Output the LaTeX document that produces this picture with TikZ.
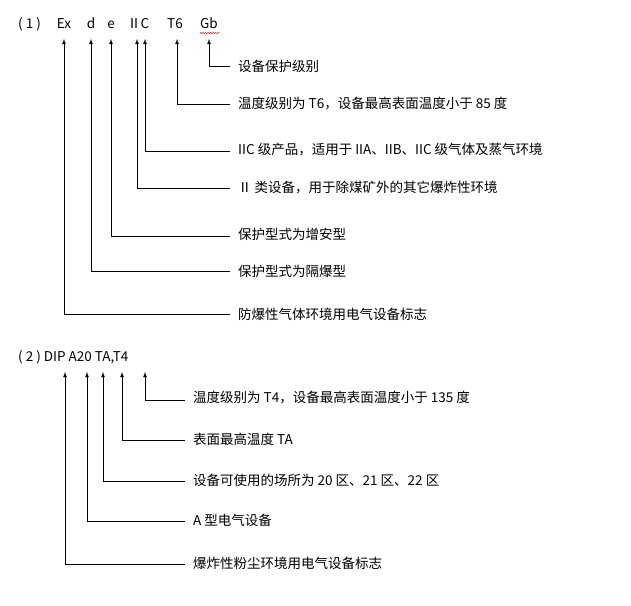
\documentclass[tikz,border=0pt]{standalone}
\usepackage{fontspec}
\setmainfont{Noto Sans CJK SC}
\usetikzlibrary{decorations.pathmorphing}
\begin{document}
\begin{tikzpicture}[x=1pt,y=-1pt,
  tok/.style={inner sep=0pt,anchor=base,font=\fontsize{13.5}{15}\selectfont},
  lab/.style={inner sep=0pt,anchor=west,font=\fontsize{13.5}{15}\selectfont},
  arr/.style={draw,line width=0.8pt,-latex}]
\useasboundingbox (0,0) rectangle (631,605);
% part 1
\node[tok,anchor=base west] (h1) at (18,28) {( 1 )};
\node[tok] (ex) at (64,28) {Ex};
\node[tok] (d) at (91,28) {d};
\node[tok] (e) at (111,28) {e};
\node[tok] (ii) at (134,28) {Ⅱ};
\node[tok] (c) at (145,28) {C};
\node[tok] (t6) at (175,28) {T6};
\node[tok] (gb) at (209,28) {Gb};
\draw[red,decorate,decoration={zigzag,amplitude=0.8pt,segment length=2.5pt}] (200,33) -- (219,33);
\node[lab] (l1) at (238,66) {设备保护级别};
\node[lab] (l2) at (238,104) {温度级别为 T6，设备最高表面温度小于 85 度};
\node[lab] (l3) at (238,150) {IIC 级产品，适用于 IIA、IIB、IIC 级气体及蒸气环境};
\node[lab] (l4) at (238,188) {Ⅱ 类设备，用于除煤矿外的其它爆炸性环境};
\node[lab] (l5) at (238,234) {保护型式为增安型};
\node[lab] (l6) at (238,271) {保护型式为隔爆型};
\node[lab] (l7) at (238,314) {防爆性气体环境用电气设备标志};
\foreach \l/\x/\y in {l1/209/66,l2/177/104,l3/145/151,l4/137/188,l5/111/236,l6/91/271,l7/64/314}{
  \coordinate (s\l) at (230,\y);
  \draw[arr] (s\l) -- (\x,\y) -- (\x,39);
}
% part 2
\node[tok,anchor=base west] (h2) at (18,361) {( 2 ) DIP A20 TA,T4};
\node[lab] (m1) at (193,398) {温度级别为 T4，设备最高表面温度小于 135 度};
\node[lab] (m2) at (193,439) {表面最高温度 TA};
\node[lab] (m3) at (193,480) {设备可使用的场所为 20 区、21 区、22 区};
\node[lab] (m4) at (193,520) {A 型电气设备};
\node[lab] (m5) at (193,563) {爆炸性粉尘环境用电气设备标志};
\foreach \l/\x/\y in {m1/145/400,m2/122/440,m3/103/481,m4/87/521,m5/65/564}{
  \coordinate (s\l) at (185,\y);
  \draw[arr] (s\l) -- (\x,\y) -- (\x,372);
}
\end{tikzpicture}
\end{document}
